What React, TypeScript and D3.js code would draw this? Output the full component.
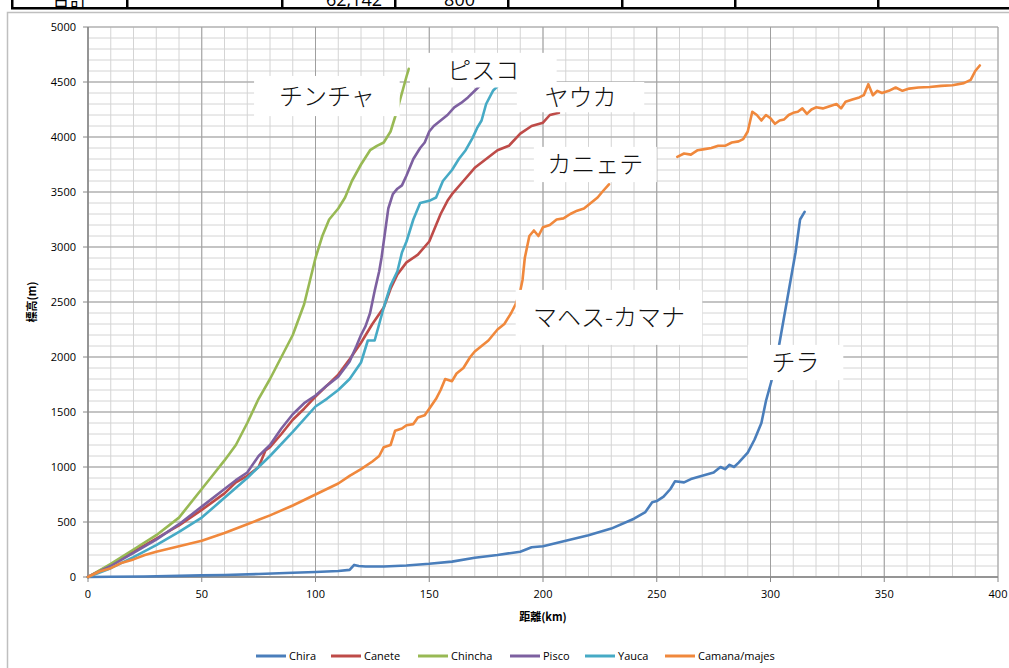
import React from "react";
import * as d3 from "d3";

const W = 1009;
const H = 668;

const xTicks = [0, 50, 100, 150, 200, 250, 300, 350, 400];
const yTicks = [0, 500, 1000, 1500, 2000, 2500, 3000, 3500, 4000, 4500, 5000];

const chiraKm = [0, 10, 25, 40, 50, 60, 75, 90, 100, 110, 115, 117, 119, 122, 130, 140, 150, 160, 170, 180, 190, 195, 200, 210, 220, 230, 240, 245, 248, 250, 253, 256, 258, 262, 265, 270, 275, 278, 280, 282, 284, 286, 290, 293, 296, 298, 300, 302, 305, 308, 311, 313, 315];
const chiraElev = [0, 2, 5, 10, 15, 18, 27, 38, 45, 55, 65, 110, 100, 95, 95, 105, 120, 140, 175, 200, 230, 270, 280, 330, 380, 440, 530, 590, 680, 690, 730, 800, 870, 860, 890, 920, 950, 1000, 980, 1020, 1000, 1040, 1130, 1250, 1400, 1600, 1750, 1900, 2250, 2600, 2950, 3250, 3320];

const caneteKm = [0, 10, 20, 30, 40, 50, 60, 65, 70, 75, 78, 80, 85, 90, 95, 100, 105, 110, 115, 120, 125, 130, 133, 136, 140, 145, 150, 155, 158, 160, 165, 170, 175, 180, 185, 190, 195, 200, 203, 207];
const caneteElev = [0, 110, 230, 350, 470, 610, 760, 860, 920, 1000, 1150, 1180, 1300, 1430, 1530, 1640, 1740, 1840, 1980, 2130, 2300, 2450, 2620, 2750, 2860, 2930, 3050, 3300, 3420, 3480, 3600, 3720, 3800, 3880, 3920, 4030, 4100, 4130, 4200, 4220];

const chinchaKm = [0, 10, 20, 30, 40, 50, 55, 60, 65, 70, 75, 80, 85, 90, 95, 100, 103, 106, 110, 113, 116, 120, 124, 127, 130, 133, 136, 138, 140, 141];
const chinchaElev = [0, 120, 250, 380, 540, 800, 930, 1060, 1200, 1400, 1620, 1800, 2000, 2200, 2480, 2900, 3100, 3250, 3350, 3450, 3600, 3750, 3880, 3920, 3950, 4050, 4250, 4400, 4550, 4620];

const piscoKm = [0, 10, 20, 30, 40, 50, 60, 65, 70, 75, 80, 85, 90, 95, 100, 105, 110, 115, 118, 120, 122, 124, 126, 128, 129, 131, 132, 134, 136, 138, 140, 143, 146, 148, 150, 152, 155, 158, 161, 164, 167, 170, 172];
const piscoElev = [0, 100, 220, 340, 480, 640, 800, 880, 950, 1100, 1200, 1350, 1480, 1580, 1650, 1740, 1820, 1960, 2100, 2200, 2280, 2400, 2600, 2780, 2900, 3200, 3350, 3480, 3530, 3560, 3650, 3800, 3900, 3950, 4050, 4100, 4150, 4200, 4270, 4310, 4360, 4420, 4460];

const yaucaKm = [0, 10, 20, 30, 40, 50, 60, 70, 75, 80, 90, 100, 105, 110, 115, 120, 123, 126, 128, 130, 133, 136, 138, 140, 143, 146, 150, 153, 156, 160, 163, 166, 169, 171, 173, 175, 178, 180];
const yaucaElev = [0, 80, 180, 290, 410, 540, 720, 900, 1000, 1100, 1320, 1550, 1620, 1700, 1800, 1950, 2150, 2150, 2300, 2450, 2650, 2780, 2950, 3050, 3250, 3400, 3420, 3450, 3600, 3700, 3800, 3880, 3990, 4080, 4150, 4300, 4420, 4460];

const camanaKm = [0, 5, 10, 15, 20, 25, 30, 40, 50, 60, 70, 75, 80, 90, 100, 110, 115, 120, 125, 128, 130, 133, 135, 138, 140, 143, 145, 148, 150, 153, 155, 157, 160, 162, 165, 168, 170, 173, 176, 180, 183, 186, 188, 190, 191, 192, 193, 194, 196, 198, 200, 203, 206, 209, 212, 215, 218, 221, 224, 226, 229,
  244,
  259, 262, 265, 268, 271, 274, 277, 280, 283, 286, 288, 290, 292, 294, 296, 298, 300, 302, 304, 306, 308, 310, 312, 314, 316, 318, 320, 323, 326, 329, 331, 333, 336, 339, 341, 343, 345, 347, 349, 352, 355, 358, 361, 365, 370, 375, 380, 385, 388, 390, 392];
const camanaElev: (number | null)[] = [0, 50, 80, 130, 160, 200, 230, 280, 330, 400, 480, 520, 560, 650, 750, 850, 920, 980, 1050, 1100, 1180, 1200, 1330, 1350, 1380, 1390, 1450, 1470, 1530, 1620, 1700, 1800, 1780, 1850, 1900, 2000, 2050, 2100, 2150, 2250, 2300, 2400, 2480, 2600, 2700, 2900, 3000, 3100, 3150, 3100, 3180, 3200, 3250, 3260, 3300, 3330, 3350, 3400, 3450, 3500, 3570,
  null,
  3820, 3850, 3840, 3880, 3890, 3900, 3920, 3920, 3950, 3960, 3980, 4050, 4230, 4200, 4150, 4200, 4170, 4120, 4150, 4160, 4200, 4220, 4230, 4260, 4210, 4250, 4270, 4260, 4280, 4300, 4260, 4320, 4340, 4360, 4380, 4480, 4380, 4420, 4400, 4420, 4450, 4420, 4440, 4450, 4455, 4465, 4470, 4490, 4520, 4600, 4650];

const seriesNames = ["Chira", "Canete", "Chincha", "Pisco", "Yauca", "Camana/majes"];
const seriesColors = ["#4A7EBB", "#BE4B48", "#98B954", "#7D60A0", "#46AAC5", "#F0883C"];
const seriesKm = [chiraKm, caneteKm, chinchaKm, piscoKm, yaucaKm, camanaKm];
const seriesElev: (number | null)[][] = [chiraElev, caneteElev, chinchaElev, piscoElev, yaucaElev, camanaElev];

const labelTexts = ["チンチャ", "ピスコ", "ヤウカ", "カニェテ", "マヘス-カマナ", "チラ"];
// box positions in data coordinates (km, elevation of top-left / bottom-right)
const labelBoxes = [
  { x0: 73, x1: 137, y0: 4555, y1: 4190 },
  { x0: 141.5, x1: 206, y0: 4765, y1: 4450 },
  { x0: 188.5, x1: 244.5, y0: 4500, y1: 4225 },
  { x0: 196, x1: 250, y0: 3910, y1: 3590 },
  { x0: 188, x1: 270, y0: 2610, y1: 2110 },
  { x0: 290, x1: 332, y0: 2110, y1: 1790 },
];

const tableCols = [12, 127, 282, 395, 508, 622, 735, 878];

const legendX = [256, 331, 418, 510, 585, 665];

export default function App() {
  const margin = { left: 88, right: 998, top: 27, bottom: 577 };
  const x = d3.scaleLinear().domain([0, 400]).range([margin.left, margin.right]);
  const y = d3.scaleLinear().domain([0, 5000]).range([margin.bottom, margin.top]);

  const minorX = d3.range(0, 401, 10);
  const minorY = d3.range(0, 5001, 100);

  const lines = seriesKm.map((kms, i) => {
    const pts = kms.map((k, j) => [k, seriesElev[i][j]] as [number, number | null]);
    const gen = d3
      .line<[number, number | null]>()
      .defined((d) => d[1] !== null)
      .x((d) => x(d[0]))
      .y((d) => y(d[1] as number));
    return gen(pts) || "";
  });

  return (
    <svg
      width={W}
      height={H}
      style={{ position: "absolute", left: 0, top: 0, background: "#fff" }}
      fontFamily="'Open Sans', 'Liberation Sans', sans-serif"
    >
      {/* table fragment on top */}
      <g>
        <text x={70} y={6} fontSize={18} textAnchor="middle" fontFamily="'Noto Sans CJK JP'" fill="#000">合計</text>
        <text x={382} y={6} fontSize={18} textAnchor="end" fill="#000">62,142</text>
        <text x={475} y={6} fontSize={18} textAnchor="end" fill="#000">800</text>
        <rect x={11} y={7} width={W} height={2.5} fill="#000" />
        {tableCols.map((c) => (
          <rect key={c} x={c - 1} y={0} width={2.5} height={9} fill="#000" />
        ))}
      </g>

      {/* chart frame */}
      <rect x={7.5} y={12.5} width={W + 10} height={H} fill="#fff" stroke="#bfbfbf" strokeWidth={1.5} />

      {/* minor grid */}
      {minorX.map((v) => (
        <line key={"mx" + v} x1={x(v)} x2={x(v)} y1={y(0)} y2={y(5000)} stroke="#d4d4d4" strokeWidth={1} />
      ))}
      {minorY.map((v) => (
        <line key={"my" + v} x1={x(0)} x2={x(400)} y1={y(v)} y2={y(v)} stroke="#d4d4d4" strokeWidth={1} />
      ))}
      {/* major grid */}
      {xTicks.map((v) => (
        <line key={"Mx" + v} x1={x(v)} x2={x(v)} y1={y(0)} y2={y(5000)} stroke="#9f9f9f" strokeWidth={1} />
      ))}
      {yTicks.map((v) => (
        <line key={"My" + v} x1={x(0)} x2={x(400)} y1={y(v)} y2={y(v)} stroke="#9f9f9f" strokeWidth={1} />
      ))}

      {/* axes */}
      <line x1={x(0)} x2={x(0)} y1={y(0)} y2={y(5000)} stroke="#868686" strokeWidth={1.5} />
      <line x1={x(0)} x2={x(400)} y1={y(0)} y2={y(0)} stroke="#868686" strokeWidth={1.5} />
      {yTicks.map((v) => (
        <g key={"yt" + v}>
          <line x1={x(0) - 5} x2={x(0)} y1={y(v)} y2={y(v)} stroke="#868686" strokeWidth={1} />
          <text x={76} y={y(v)} dy="0.35em" fontSize={11} textAnchor="end" fill="#000">{v}</text>
        </g>
      ))}
      {xTicks.map((v) => (
        <g key={"xt" + v}>
          <line x1={x(v)} x2={x(v)} y1={y(0)} y2={y(0) + 5} stroke="#868686" strokeWidth={1} />
          <text x={x(v)} y={594} dy="0.35em" fontSize={11} textAnchor="middle" fill="#000">{v}</text>
        </g>
      ))}

      {/* series */}
      {lines.map((d, i) => (
        <path key={seriesNames[i]} d={d} fill="none" stroke={seriesColors[i]} strokeWidth={2.6} strokeLinejoin="round" strokeLinecap="round" />
      ))}

      {/* labels */}
      {labelBoxes.map((b, i) => (
        <g key={labelTexts[i]}>
          <rect x={x(b.x0)} y={y(b.y0)} width={x(b.x1) - x(b.x0)} height={y(b.y1) - y(b.y0)} fill="#fff" />
          <text
            x={(x(b.x0) + x(b.x1)) / 2}
            y={(y(b.y0) + y(b.y1)) / 2}
            dy="0.36em"
            fontSize={24}
            textAnchor="middle"
            fontFamily="'Noto Sans CJK JP'"
            fontWeight={300}
            fill="#111"
          >
            {labelTexts[i]}
          </text>
        </g>
      ))}

      {/* axis titles */}
      <text
        transform="translate(32,302) rotate(-90)"
        fontSize={11}
        fontWeight="bold"
        textAnchor="middle"
        dy="0.35em"
        fontFamily="'Noto Sans CJK JP'"
      >
        標高(m)
      </text>
      <text x={543} y={617} fontSize={11} fontWeight="bold" textAnchor="middle" dy="0.35em" fontFamily="'Noto Sans CJK JP'">
        距離(km)
      </text>

      {/* legend */}
      {seriesNames.map((n, i) => (
        <g key={"lg" + n}>
          <line x1={legendX[i]} x2={legendX[i] + 30} y1={656} y2={656} stroke={seriesColors[i]} strokeWidth={3} />
          <text x={legendX[i] + 33} y={656} dy="0.35em" fontSize={11} fill="#000">{n}</text>
        </g>
      ))}
    </svg>
  );
}
